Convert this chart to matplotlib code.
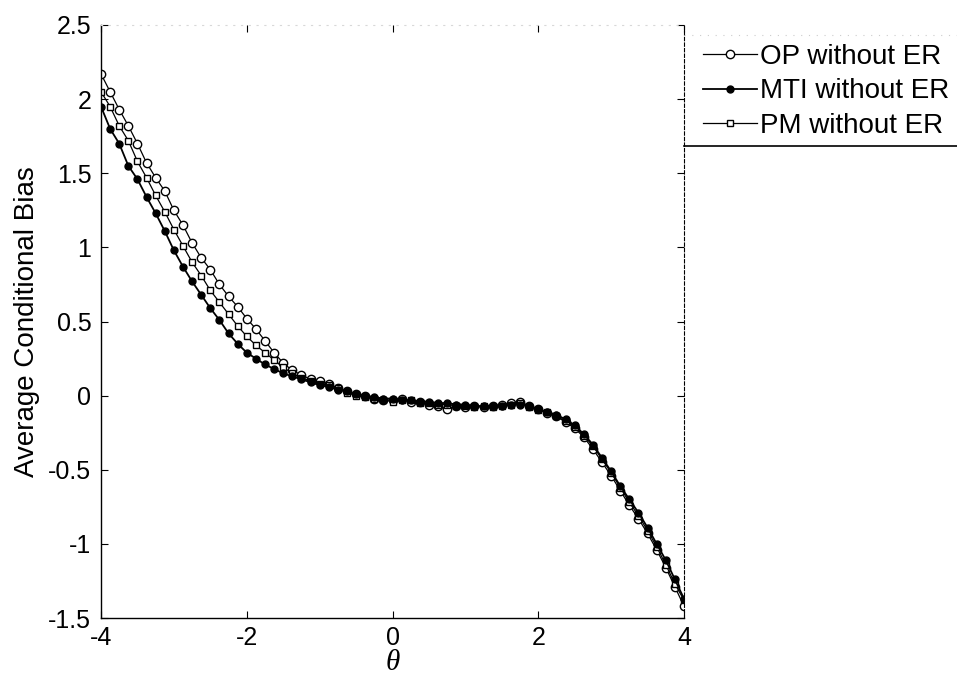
import matplotlib
matplotlib.use("Agg")
import matplotlib.pyplot as plt
from matplotlib.lines import Line2D

plt.rcParams['font.family'] = ['Liberation Sans', 'DejaVu Sans']

theta = [-4.0 + 0.125 * i for i in range(65)]

op_without_er = [2.17, 2.05, 1.93, 1.82, 1.70, 1.57, 1.47, 1.38, 1.25, 1.15,
                 1.03, 0.93, 0.85, 0.75, 0.67, 0.60, 0.52, 0.45, 0.37, 0.29,
                 0.22, 0.17, 0.14, 0.11, 0.10, 0.08, 0.05, 0.03, 0.01, 0.00,
                 -0.02, -0.03, -0.03, -0.02, -0.04, -0.04, -0.06, -0.07, -0.09, -0.07,
                 -0.08, -0.07, -0.08, -0.07, -0.06, -0.05, -0.04, -0.07, -0.09, -0.12,
                 -0.14, -0.18, -0.22, -0.28, -0.36, -0.45, -0.54, -0.64, -0.74, -0.83,
                 -0.93, -1.04, -1.16, -1.29, -1.42]

mti_without_er = [1.95, 1.80, 1.70, 1.55, 1.46, 1.34, 1.23, 1.11, 0.98, 0.87,
                  0.77, 0.68, 0.59, 0.51, 0.42, 0.35, 0.29, 0.25, 0.21, 0.18,
                  0.15, 0.13, 0.11, 0.09, 0.07, 0.06, 0.04, 0.03, 0.01, 0.00,
                  -0.01, -0.02, -0.02, -0.03, -0.03, -0.04, -0.04, -0.05, -0.05, -0.06,
                  -0.06, -0.07, -0.07, -0.07, -0.07, -0.06, -0.06, -0.07, -0.09, -0.11,
                  -0.13, -0.16, -0.20, -0.26, -0.33, -0.42, -0.51, -0.61, -0.70, -0.79,
                  -0.89, -1.00, -1.11, -1.24, -1.37]

pm_without_er = [2.05, 1.95, 1.82, 1.72, 1.58, 1.47, 1.35, 1.24, 1.12, 1.01,
                 0.90, 0.81, 0.71, 0.63, 0.55, 0.47, 0.40, 0.34, 0.29, 0.24,
                 0.19, 0.15, 0.12, 0.10, 0.08, 0.07, 0.05, 0.02, 0.00, -0.01,
                 -0.02, -0.03, -0.04, -0.03, -0.03, -0.05, -0.05, -0.06, -0.06, -0.07,
                 -0.07, -0.08, -0.07, -0.08, -0.07, -0.06, -0.05, -0.08, -0.10, -0.11,
                 -0.14, -0.17, -0.21, -0.27, -0.34, -0.43, -0.52, -0.62, -0.72, -0.81,
                 -0.91, -1.02, -1.14, -1.27, -1.38]

series_labels = ['OP without ER', 'MTI without ER', 'PM without ER']
x_ticks = [-4, -2, 0, 2, 4]
y_ticks = [-1.5, -1, -0.5, 0, 0.5, 1, 1.5, 2, 2.5]
y_tick_labels = ['-1.5', '-1', '-0.5', '0', '0.5', '1', '1.5', '2', '2.5']

W, H = 957, 684
fig = plt.figure(figsize=(W / 100, H / 100), dpi=100)
ax = fig.add_axes([101 / W, 1 - 618 / H, (684 - 101) / W, (618 - 25) / H])

h1, = ax.plot(theta, op_without_er, '-', color='black', lw=0.9, marker='o',
              ms=6, mfc='white', mec='black', mew=1.0)
h3, = ax.plot(theta, pm_without_er, '-', color='black', lw=0.9, marker='s',
              ms=5, mfc='white', mec='black', mew=1.0)
h2, = ax.plot(theta, mti_without_er, '-', color='black', lw=1.3, marker='o',
              ms=5, mfc='black', mec='black', mew=1.0)

ax.set_xlim(-4, 4)
ax.set_ylim(-1.5, 2.5)
ax.set_xticks(x_ticks)
ax.set_xticklabels([str(t) for t in x_ticks])
ax.set_yticks(y_ticks)
ax.set_yticklabels(y_tick_labels)
ax.tick_params(direction='in', length=5, width=0.8, labelsize=18,
               top=True, right=True)
ax.tick_params(axis='y', pad=7)
ax.tick_params(axis='x', pad=6)

ax.spines['top'].set_color('#d8d8d8')
ax.spines['top'].set_linestyle((0, (1, 6)))
ax.spines['right'].set_linestyle((0, (3, 2)))
ax.spines['right'].set_linewidth(0.8)
ax.spines['left'].set_linewidth(1.0)
ax.spines['bottom'].set_linewidth(1.0)

ax.set_ylabel('Average Conditional Bias', fontsize=20, labelpad=6)
ax.set_xlabel('θ', fontsize=21, family=['Liberation Serif', 'DejaVu Serif'],
              style='italic', labelpad=0)

leg = fig.legend([h1, h2, h3], series_labels, loc='upper left',
                 bbox_to_anchor=(703 / W, 1 - 44 / H), frameon=False,
                 fontsize=20, handlelength=1.95, handletextpad=0.1,
                 labelspacing=0.3, borderpad=0.0, borderaxespad=0.0)

# legend frame pieces
fig.add_artist(Line2D([684 / W, 1.0], [1 - 35 / H, 1 - 35 / H],
                      transform=fig.transFigure, color='#cccccc', lw=0.8,
                      linestyle=(0, (1, 6))))
fig.add_artist(Line2D([684 / W, 1.0], [1 - 146 / H, 1 - 146 / H],
                      transform=fig.transFigure, color='black', lw=1.2))

fig.savefig('out.png', dpi=100, facecolor='white')
